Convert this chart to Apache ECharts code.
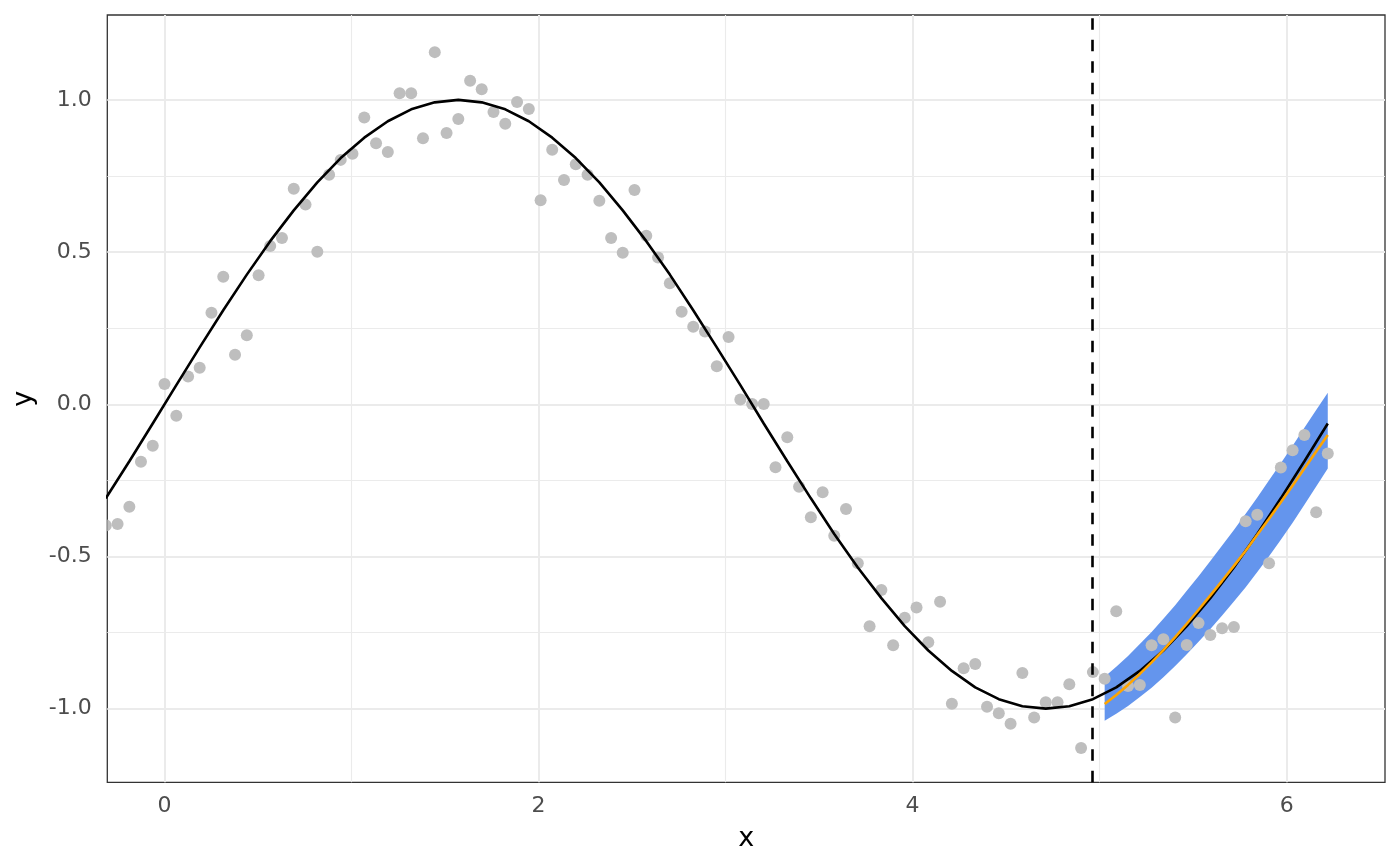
<!DOCTYPE html>
<html>
<head>
<meta charset="utf-8">
<script src="https://cdn.jsdelivr.net/npm/echarts@6/dist/echarts.min.js"></script>
<style>
html,body{margin:0;padding:0;background:#fff;}
#chart{width:1400px;height:866px;}
</style>
</head>
<body>
<div id="chart"></div>
<script>
// ---- data ----
const xs = [-0.314,-0.251,-0.188,-0.126,-0.063,0.000,0.063,0.126,0.188,0.251,
0.314,0.377,0.440,0.503,0.565,0.628,0.691,0.754,0.817,0.880,
0.942,1.005,1.068,1.131,1.194,1.257,1.319,1.382,1.445,1.508,
1.571,1.634,1.696,1.759,1.822,1.885,1.948,2.011,2.073,2.136,
2.199,2.262,2.325,2.388,2.450,2.513,2.576,2.639,2.702,2.765,
2.827,2.890,2.953,3.016,3.079,3.142,3.204,3.267,3.330,3.393,
3.456,3.519,3.581,3.644,3.707,3.770,3.833,3.896,3.958,4.021,
4.084,4.147,4.210,4.273,4.335,4.398,4.461,4.524,4.587,4.650,
4.712,4.775,4.838,4.901,4.964,5.027,5.089,5.152,5.215,5.278,
5.341,5.404,5.466,5.529,5.592,5.655,5.718,5.781,5.843,5.906,
5.969,6.032,6.095,6.158,6.220];

const obsY = [-0.398,-0.393,-0.337,-0.189,-0.136,0.067,-0.038,0.091,0.120,0.301,
0.419,0.163,0.227,0.424,0.520,0.546,0.708,0.656,0.501,0.754,
0.803,0.823,0.942,0.858,0.829,1.022,1.022,0.874,1.157,0.891,
0.937,1.063,1.035,0.960,0.922,0.993,0.970,0.670,0.836,0.737,
0.789,0.754,0.669,0.546,0.498,0.704,0.554,0.482,0.398,0.304,
0.255,0.239,0.125,0.221,0.016,0.001,0.001,-0.207,-0.108,-0.271,
-0.371,-0.289,-0.432,-0.344,-0.522,-0.729,-0.610,-0.792,-0.701,-0.668,
-0.782,-0.649,-0.984,-0.867,-0.853,-0.994,-1.015,-1.050,-0.883,-1.029,
-0.979,-0.979,-0.920,-1.129,-0.880,-0.902,-0.680,-0.926,-0.922,-0.792,
-0.772,-1.029,-0.791,-0.719,-0.758,-0.736,-0.732,-0.384,-0.363,-0.522,
-0.208,-0.151,-0.101,-0.355,-0.162];

// true curve, read at every other x (indices 0,2,...,104)
const curveY = [-0.309,-0.187,-0.063,0.063,0.187,0.309,0.426,0.536,0.637,0.729,
0.809,0.876,0.930,0.969,0.992,1.000,0.992,0.969,0.930,0.876,
0.809,0.729,0.637,0.536,0.426,0.309,0.187,0.063,-0.063,-0.187,
-0.309,-0.426,-0.536,-0.637,-0.729,-0.809,-0.876,-0.930,-0.969,-0.992,
-1.000,-0.992,-0.969,-0.930,-0.876,-0.809,-0.729,-0.637,-0.536,-0.426,
-0.309,-0.187,-0.063];

// forecast (x indices 85..104)
const fcStart = 85;
const fcMean  = [-0.985,-0.955,-0.922,-0.886,-0.848,-0.808,-0.765,-0.721,-0.675,-0.628,
-0.580,-0.531,-0.481,-0.429,-0.376,-0.322,-0.267,-0.211,-0.155,-0.101];
const fcUpper = [-0.895,-0.862,-0.827,-0.788,-0.748,-0.705,-0.660,-0.613,-0.565,-0.515,
-0.464,-0.413,-0.360,-0.306,-0.250,-0.194,-0.136,-0.077,-0.019,0.038];
const fcLower = [-1.040,-1.017,-0.991,-0.962,-0.931,-0.897,-0.860,-0.821,-0.780,-0.738,
-0.694,-0.648,-0.601,-0.551,-0.499,-0.445,-0.389,-0.330,-0.270,-0.211];

const cutX = 4.964;
const xTicks = [0, 2, 4, 6];
const xMinor = [1, 3, 5];
const yTicks = [-1, -0.5, 0, 0.5, 1];
const yMinor = [-0.75, -0.25, 0.25, 0.75];

// ---- build ----
const FONT = 'DejaVu Sans';
const scatterData = xs.map((x, i) => [x, obsY[i]]);
const curveData = curveY.map((y, k) => [xs[2 * k], y]);
const fcX = xs.slice(fcStart);
const meanData = fcMean.map((y, k) => [fcX[k], y]);

const gridLines = [];
xTicks.forEach(v => gridLines.push({xAxis: v, lineStyle: {color: '#EBEBEB', width: 2, type: 'solid'}}));
xMinor.forEach(v => gridLines.push({xAxis: v, lineStyle: {color: '#EBEBEB', width: 1.1, type: 'solid'}}));
yTicks.forEach(v => gridLines.push({yAxis: v, lineStyle: {color: '#EBEBEB', width: 2, type: 'solid'}}));
yMinor.forEach(v => gridLines.push({yAxis: v, lineStyle: {color: '#EBEBEB', width: 1.1, type: 'solid'}}));

const chart = echarts.init(document.getElementById('chart'), null, {renderer: 'canvas'});
chart.setOption({
  animation: false,
  backgroundColor: '#ffffff',
  grid: {left: 107.3, right: 15, top: 15, bottom: 83.7, show: true,
         borderColor: '#333333', borderWidth: 1.3, backgroundColor: 'transparent'},
  xAxis: {
    type: 'value', min: -0.306, max: 6.526,
    axisLine: {show: false},
    axisTick: {show: true, customValues: xTicks, length: 7, lineStyle: {color: '#333333', width: 1.8}},
    axisLabel: {customValues: xTicks, formatter: v => v.toFixed(0), color: '#4D4D4D',
                fontSize: 22, fontFamily: FONT, margin: 13},
    splitLine: {show: false},
    name: 'x', nameLocation: 'middle', nameGap: 43,
    nameTextStyle: {fontSize: 27, color: '#000000', fontFamily: FONT}
  },
  yAxis: {
    type: 'value', min: -1.242, max: 1.279,
    axisLine: {show: false},
    axisTick: {show: true, customValues: yTicks, length: 7, lineStyle: {color: '#333333', width: 1.8}},
    axisLabel: {customValues: yTicks, formatter: v => v.toFixed(1), color: '#4D4D4D',
                fontSize: 22, fontFamily: FONT, margin: 15.5},
    splitLine: {show: false},
    name: 'y', nameLocation: 'middle', nameRotate: 90, nameGap: 57,
    nameTextStyle: {fontSize: 27, color: '#000000', fontFamily: FONT}
  },
  series: [
    {
      type: 'custom', z: 2, silent: true,
      data: [[fcX[0], fcMean[0]]],
      renderItem: function (params, api) {
        const pts = [];
        for (let k = 0; k < fcX.length; k++) pts.push(api.coord([fcX[k], fcUpper[k]]));
        for (let k = fcX.length - 1; k >= 0; k--) pts.push(api.coord([fcX[k], fcLower[k]]));
        return {type: 'polygon', shape: {points: pts}, style: {fill: '#6495ED'}};
      },
      markLine: {silent: true, z: 1, symbol: 'none', label: {show: false}, data: gridLines}
    },
    {
      type: 'custom', z: 3, silent: true, data: scatterData,
      renderItem: function (params, api) {
        const p = api.coord([api.value(0), api.value(1)]);
        const cs = params.coordSys;
        return {
          type: 'circle', shape: {cx: p[0], cy: p[1], r: 6},
          style: {fill: '#BEBEBE'},
          clipPath: {type: 'rect', shape: {x: cs.x, y: cs.y, width: cs.width, height: cs.height}}
        };
      }
    },
    {
      type: 'line', z: 4, data: curveData, showSymbol: false, clip: true, silent: true,
      lineStyle: {color: '#000000', width: 2.6}
    },
    {
      type: 'line', z: 5, data: meanData, showSymbol: false, clip: true, silent: true,
      lineStyle: {color: '#FFA500', width: 2.6},
      markLine: {silent: true, z: 6, symbol: 'none', label: {show: false},
        data: [{xAxis: cutX, lineStyle: {color: '#000000', width: 2.6, type: [11.5, 10]}}]}
    }
  ]
});
</script>
</body>
</html>
